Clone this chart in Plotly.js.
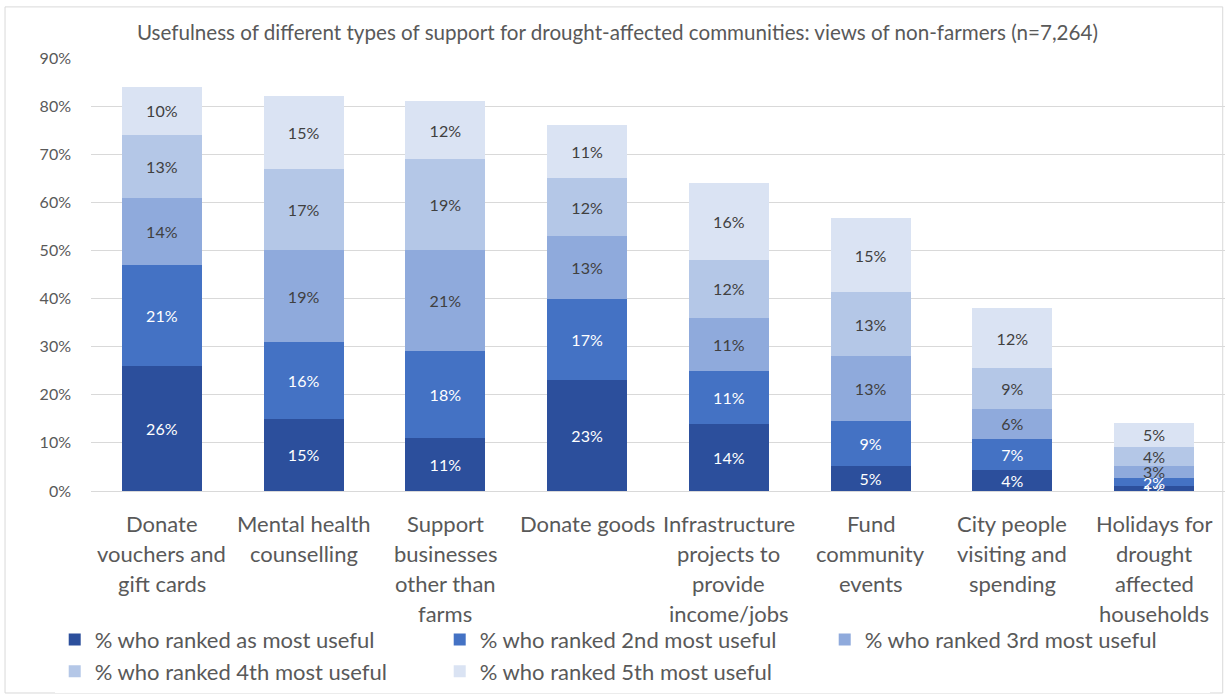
<!DOCTYPE html>
<html>
<head>
<meta charset="utf-8">
<script src="https://cdn.plot.ly/plotly-3.0.1.min.js"></script>
<style>
html,body{margin:0;padding:0;background:#fff;}
#chart{width:1225px;height:695px;}
</style>
</head>
<body>
<div id="chart"></div>
<script>
const categories = [
  "Donate<br>vouchers and<br>gift cards",
  "Mental health<br>counselling",
  "Support<br>businesses<br>other than<br>farms",
  "Donate goods",
  "Infrastructure<br>projects to<br>provide<br>income/jobs",
  "Fund<br>community<br>events",
  "City people<br>visiting and<br>spending",
  "Holidays for<br>drought<br>affected<br>households"
];
const seriesNames = [
  "% who ranked as most useful",
  "% who ranked 2nd most useful",
  "% who ranked 3rd most useful",
  "% who ranked 4th most useful",
  "% who ranked 5th most useful"
];
const rank1 = [26, 15, 11, 23, 14, 5.2, 4.3, 1.0];
const rank2 = [21, 16, 18, 17, 11, 9.4, 6.6, 1.7];
const rank3 = [14, 19, 21, 13, 11, 13.4, 6.1, 2.6];
const rank4 = [13, 17, 19, 12, 12, 13.3, 8.6, 3.8];
const rank5 = [10, 15, 12, 11, 16, 15.4, 12.4, 5.1];
const colors = ["#2c4f9c", "#4472c4", "#8faadc", "#b4c7e7", "#dae3f3"];
const textColors = ["#ffffff", "#ffffff", "#404040", "#404040", "#404040"];

const allSeries = [rank1, rank2, rank3, rank4, rank5];
const traces = allSeries.map((vals, i) => ({
  type: "bar",
  name: seriesNames[i],
  x: categories,
  y: vals,
  marker: {color: colors[i]},
  texttemplate: "%{y:.0f}%",
  textposition: "inside",
  insidetextanchor: "middle",
  textangle: 0,
  textfont: {size: 16, color: textColors[i], family: "Lato, sans-serif"},
  hoverinfo: "skip"
}));

// category labels drawn line by line (wider line spacing, as in the reference)
const catAnnotations = [];
categories.forEach(cat => {
  cat.split("<br>").forEach((line, li) => {
    catAnnotations.push({
      x: cat, y: 0, xref: "x", yref: "y",
      text: line, showarrow: false,
      xanchor: "center", yanchor: "middle",
      yshift: -(32 + 30 * li),
      font: {size: 22, color: "#595959", family: "Lato, sans-serif"}
    });
  });
});

const layout = {
  width: 1225,
  height: 695,
  barmode: "stack",
  bargap: 0.436,
  paper_bgcolor: "#ffffff",
  plot_bgcolor: "#ffffff",
  font: {family: "Lato, sans-serif", color: "#595959"},
  margin: {l: 91, r: 0, t: 58, b: 204},
  uniformtext: {minsize: 16, mode: "show"},
  title: {
    text: "Usefulness of different types of support for drought-affected communities: views of non-farmers (n=7,264)",
    font: {size: 20.6, color: "#595959", family: "Lato, sans-serif"},
    x: 0.504, xanchor: "center", y: 0.953, yanchor: "middle"
  },
  xaxis: {
    showticklabels: false,
    showline: true,
    linecolor: "#d9d9d9",
    ticks: "",
    automargin: false
  },
  yaxis: {
    range: [0, 90],
    dtick: 10,
    ticksuffix: "%",
    tickfont: {size: 16, color: "#595959"},
    gridcolor: "#d9d9d9",
    zeroline: false,
    ticklabelstandoff: 19,
    automargin: false
  },
  legend: {
    orientation: "h",
    xref: "paper", yref: "paper",
    x: -0.032, xanchor: "left",
    y: -0.295, yanchor: "top",
    font: {size: 22, color: "#595959"},
    entrywidth: 340,
    entrywidthmode: "pixels",
    traceorder: "normal",
    itemwidth: 30
  },
  annotations: catAnnotations,
  shapes: [{
    type: "rect", xref: "paper", yref: "paper",
    x0: -0.0758, x1: 0.998, y0: -0.4665, y1: 1.118,
    line: {color: "#d9d9d9", width: 1},
    fillcolor: "rgba(0,0,0,0)",
    layer: "below"
  }],
  showlegend: true
};

Plotly.newPlot("chart", traces, layout, {displayModeBar: false, staticPlot: true});
</script>
</body>
</html>
